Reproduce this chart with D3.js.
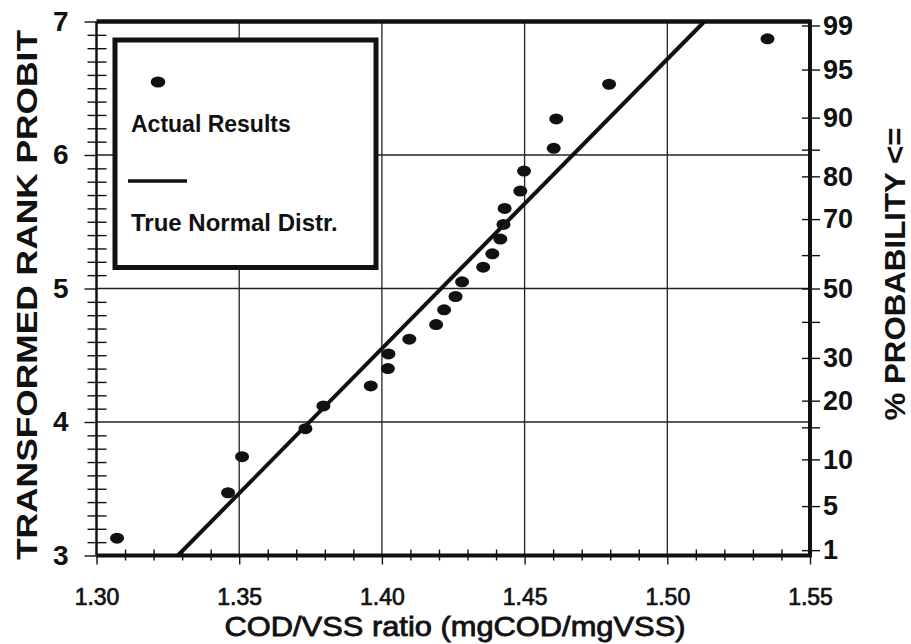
<!DOCTYPE html>
<html>
<head>
<meta charset="utf-8">
<script src="https://cdn.jsdelivr.net/npm/d3@7"></script>
<style>
body{margin:0;background:#fff;}
text{font-family:"Liberation Sans",Arial,sans-serif;fill:#111;}
</style>
</head>
<body>
<script>
// data
var codVss = [1.3072, 1.3461, 1.3510, 1.3732, 1.3795, 1.3961, 1.4021, 1.4023, 1.4096, 1.4190,
              1.4218, 1.4258, 1.4281, 1.4355, 1.4387, 1.4415, 1.4426, 1.4430, 1.4485, 1.4498,
              1.4602, 1.4611, 1.4796, 1.5351];
var rankProbit = [3.13, 3.47, 3.74, 3.95, 4.12, 4.27, 4.40, 4.51, 4.62, 4.73,
                  4.84, 4.94, 5.05, 5.16, 5.26, 5.37, 5.48, 5.60, 5.73, 5.88,
                  6.05, 6.27, 6.53, 6.87];
var normalX = [1.3285, 1.513];
var normalY = [3, 7];

var xTicks = [1.30, 1.35, 1.40, 1.45, 1.50, 1.55];
var yTicks = [3, 4, 5, 6, 7];
var probLabels = ["1", "5", "10", "", "20", "30", "", "50", "", "70", "80", "", "90", "95", "99"];
var probPos    = [3.04, 3.37, 3.72, 3.96, 4.16, 4.48, 4.75, 5.0, 5.25, 5.52, 5.84, 6.04, 6.28, 6.64, 6.97];

var svgWidth = 911, svgHeight = 644;
var margin = {top: 21.5, right: 101, bottom: 88.5, left: 96.5};
var w = svgWidth - margin.left - margin.right;
var h = svgHeight - margin.top - margin.bottom;

var svg = d3.select("body").append("svg")
    .attr("width", svgWidth)
    .attr("height", svgHeight);

var g = svg.append("g")
    .attr("transform", "translate(" + margin.left + "," + margin.top + ")");

var xScale = d3.scaleLinear().domain([1.30, 1.55]).range([0, w]);
var yScale = d3.scaleLinear().domain([3, 7]).range([h, 0]);

// grid
g.selectAll(".vgrid").data(xTicks.slice(1, -1)).enter().append("line")
    .attr("x1", function(d){ return xScale(d); })
    .attr("x2", function(d){ return xScale(d); })
    .attr("y1", 0).attr("y2", h)
    .attr("stroke", "#222").attr("stroke-width", 1.3);
g.selectAll(".hgrid").data(yTicks.slice(1, -1)).enter().append("line")
    .attr("x1", 0).attr("x2", w)
    .attr("y1", function(d){ return yScale(d); })
    .attr("y2", function(d){ return yScale(d); })
    .attr("stroke", "#222").attr("stroke-width", 1.3);

// axes
function tidy(sel){ sel.select(".domain").remove(); sel.selectAll("line").attr("stroke", "#111"); }

var yMinor = d3.range(31, 70).filter(function(d){ return d % 10 !== 0; }).map(function(d){ return d / 10; });
var xMinor = d3.range(131, 155).filter(function(d){ return d % 5 !== 0; }).map(function(d){ return d / 100; });

g.append("g").call(d3.axisLeft(yScale).tickValues(yMinor).tickSize(9).tickFormat("")).call(tidy)
    .selectAll("line").attr("stroke-width", 1.4);
g.append("g").call(d3.axisRight(yScale).tickValues(yMinor).tickSize(10).tickFormat("")).call(tidy)
    .selectAll("line").attr("stroke-width", 1.4);

var leftAxis = g.append("g")
    .call(d3.axisLeft(yScale).tickValues(yTicks).tickSize(12).tickPadding(16).tickFormat(d3.format("d")))
    .call(tidy);
leftAxis.selectAll("line").attr("stroke-width", 1.4);
leftAxis.selectAll("text").attr("font-size", "28px").attr("font-weight", "bold").attr("fill", "#111");

g.append("g").attr("transform", "translate(0," + h + ")")
    .call(d3.axisBottom(xScale).tickValues(xMinor).tickSize(5).tickFormat("")).call(tidy)
    .selectAll("line").attr("stroke-width", 1.4);
g.append("g").attr("transform", "translate(0," + h + ")")
    .call(d3.axisTop(xScale).tickValues(xMinor).tickSize(6).tickFormat("")).call(tidy)
    .selectAll("line").attr("stroke-width", 1.4);

var bottomAxis = g.append("g").attr("transform", "translate(0," + h + ")")
    .call(d3.axisBottom(xScale).tickValues(xTicks).tickSize(9).tickPadding(24).tickFormat(d3.format(".2f")))
    .call(tidy);
bottomAxis.selectAll("line").attr("stroke-width", 1.4);
bottomAxis.selectAll("text").attr("font-size", "23px").attr("fill", "#111")
    .attr("stroke", "#111").attr("stroke-width", 0.7);

g.append("g").attr("transform", "translate(" + w + ",0)")
    .call(d3.axisLeft(yScale).tickValues(probPos).tickSize(8).tickFormat("")).call(tidy)
    .selectAll("line").attr("stroke-width", 1.4);
var rightAxis = g.append("g").attr("transform", "translate(" + w + ",0)")
    .call(d3.axisRight(yScale).tickValues(probPos).tickSize(10).tickPadding(3)
        .tickFormat(function(d, i){ return probLabels[i]; }))
    .call(tidy);
rightAxis.selectAll("line").attr("stroke-width", 1.4);
rightAxis.selectAll("text").attr("font-size", "27px").attr("font-weight", "bold").attr("fill", "#111");

// frame
g.append("line").attr("x1", 0).attr("x2", w).attr("y1", 0).attr("y2", 0)
    .attr("stroke", "#111").attr("stroke-width", 4.5);
g.append("line").attr("x1", 0).attr("x2", w + 2).attr("y1", h).attr("y2", h)
    .attr("stroke", "#111").attr("stroke-width", 4);
g.append("line").attr("x1", w).attr("x2", w).attr("y1", -2).attr("y2", h)
    .attr("stroke", "#111").attr("stroke-width", 4);
g.append("line").attr("x1", 0).attr("x2", 0).attr("y1", 0).attr("y2", h)
    .attr("stroke", "#111").attr("stroke-width", 2.5);

// true normal line
var pairs = normalX.map(function(d, i){ return [d, normalY[i]]; });
g.append("path").datum(pairs)
    .attr("d", d3.line().x(function(d){ return xScale(d[0]); }).y(function(d){ return yScale(d[1]); }))
    .attr("fill", "none").attr("stroke", "#111").attr("stroke-width", 4);

// points
g.selectAll(".pt").data(codVss).enter().append("ellipse")
    .attr("cx", function(d){ return xScale(d); })
    .attr("cy", function(d, i){ return yScale(rankProbit[i]); })
    .attr("rx", 7).attr("ry", 5.5)
    .attr("fill", "#111");

// legend
var leg = svg.append("g").attr("transform", "translate(115,40)");
leg.append("rect").attr("width", 261).attr("height", 227.5)
    .attr("fill", "#fff").attr("stroke", "#111").attr("stroke-width", 5);
leg.append("ellipse").attr("cx", 43).attr("cy", 42).attr("rx", 7.3).attr("ry", 5.5).attr("fill", "#111");
leg.append("text").attr("x", 16).attr("y", 92).attr("font-size", "23px").attr("font-weight", "bold")
    .text("Actual Results");
leg.append("line").attr("x1", 13).attr("x2", 72).attr("y1", 141).attr("y2", 141)
    .attr("stroke", "#111").attr("stroke-width", 3.5);
leg.append("text").attr("x", 16).attr("y", 191).attr("font-size", "24px").attr("font-weight", "bold")
    .text("True Normal Distr.");

// titles
svg.append("text")
    .attr("transform", "translate(37,295) rotate(-90)")
    .attr("text-anchor", "middle").attr("font-size", "29px").attr("font-weight", "bold")
    .attr("textLength", 530).attr("lengthAdjust", "spacingAndGlyphs")
    .text("TRANSFORMED RANK PROBIT");
svg.append("text")
    .attr("transform", "translate(905,274) rotate(-90)")
    .attr("text-anchor", "middle").attr("font-size", "29px").attr("font-weight", "bold")
    .attr("textLength", 293).attr("lengthAdjust", "spacingAndGlyphs")
    .text("% PROBABILITY <=");
svg.append("text")
    .attr("x", 455).attr("y", 636)
    .attr("text-anchor", "middle").attr("font-size", "28px")
    .attr("stroke", "#111").attr("stroke-width", 0.8)
    .attr("textLength", 461).attr("lengthAdjust", "spacingAndGlyphs")
    .text("COD/VSS ratio (mgCOD/mgVSS)");
</script>
</body>
</html>
